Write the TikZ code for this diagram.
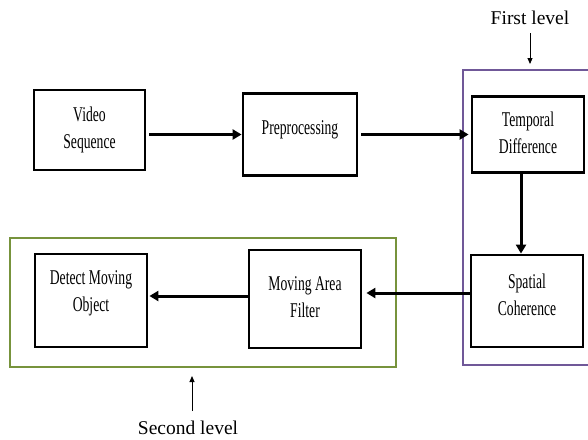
\documentclass[tikz,border=0pt]{standalone}
\usepackage{fontspec}
\setmainfont{Liberation Serif}
\newfontfamily\boxfont[FakeStretch=0.65]{Liberation Serif}
\usetikzlibrary{arrows.meta,calc}
\definecolor{lvpurple}{RGB}{112,88,152}
\definecolor{lvgreen}{RGB}{119,147,60}
\begin{document}
\begin{tikzpicture}[x=1pt,y=-1pt,
  blk/.style={draw=black,line width=2.8pt,fill=white,inner sep=0pt},
  blktext/.style={align=center,font=\boxfont\fontsize{21}{27}\selectfont,inner sep=0pt},
  flow/.style={line width=3pt,-{Triangle[length=9pt,width=10pt]}},
  lvl/.style={font=\fontsize{19.5}{21}\selectfont},
  lvlarrow/.style={line width=0.9pt,-{Triangle[length=6pt,width=5pt]}}]
\useasboundingbox (0,0) rectangle (588,439);
% groups
\draw[lvpurple,line width=2pt] (592,70) -- (463,70) -- (463,365) -- (592,365);
\draw[lvgreen,line width=2.4pt] (10,238) rectangle (396,367);
% boxes
\node[blk,minimum width=111pt,minimum height=80pt] (vs) at (89.5,130) {};
\node[blk,minimum width=114pt,minimum height=82pt] (pre) at (300,134.5) {};
\node[blk,minimum width=112pt,minimum height=76pt] (td) at (528,134.5) {};
\node[blk,minimum width=112pt,minimum height=92pt] (sc) at (527,301) {};
\node[blk,minimum width=112pt,minimum height=98pt] (maf) at (305,299) {};
\node[blk,minimum width=112pt,minimum height=93pt] (dmo) at (91,300.5) {};
% box texts
\node[blktext] (vs-t) at (89.5,130) {Video\\Sequence};
\node[blktext] (pre-t) at (300,130) {Preprocessing};
\node[blktext] (td-t) at (528,133) {Temporal\\Difference};
\node[blktext] (sc-t) at (527,295) {Spatial\\Coherence};
\node[blktext] (maf-t) at (305,297) {Moving Area\\Filter};
\node[blktext] (dmo-t) at (91,293) {Detect Moving\\Object};
% connectors
\draw[flow,shorten <=3pt] (vs.east |- pre.west) -- (pre.west);
\draw[flow,shorten <=3pt,shorten >=2pt] (pre.east) -- (pre.east -| td.west);
\draw[flow] ([xshift=-7pt]td.south) -- ([xshift=-7pt]td.south |- sc.north);
\draw[flow,shorten >=4pt] ([yshift=8pt]sc.west) -- ([yshift=8pt]sc.west -| maf.east);
\draw[flow,shorten >=1pt] ([yshift=3pt]maf.west) -- ([yshift=3pt]maf.west -| dmo.east);
% level labels
\node[lvl] (fl) at (530,18) {First level};
\coordinate (flstart) at (530,33);
\coordinate (fltip) at (530,64);
\draw[lvlarrow] (flstart) -- (fltip);
\node[lvl] (sl) at (188,428) {Second level};
\coordinate (slstart) at (192,411);
\coordinate (sltip) at (192,376);
\draw[lvlarrow] (slstart) -- (sltip);
\end{tikzpicture}
\end{document}
